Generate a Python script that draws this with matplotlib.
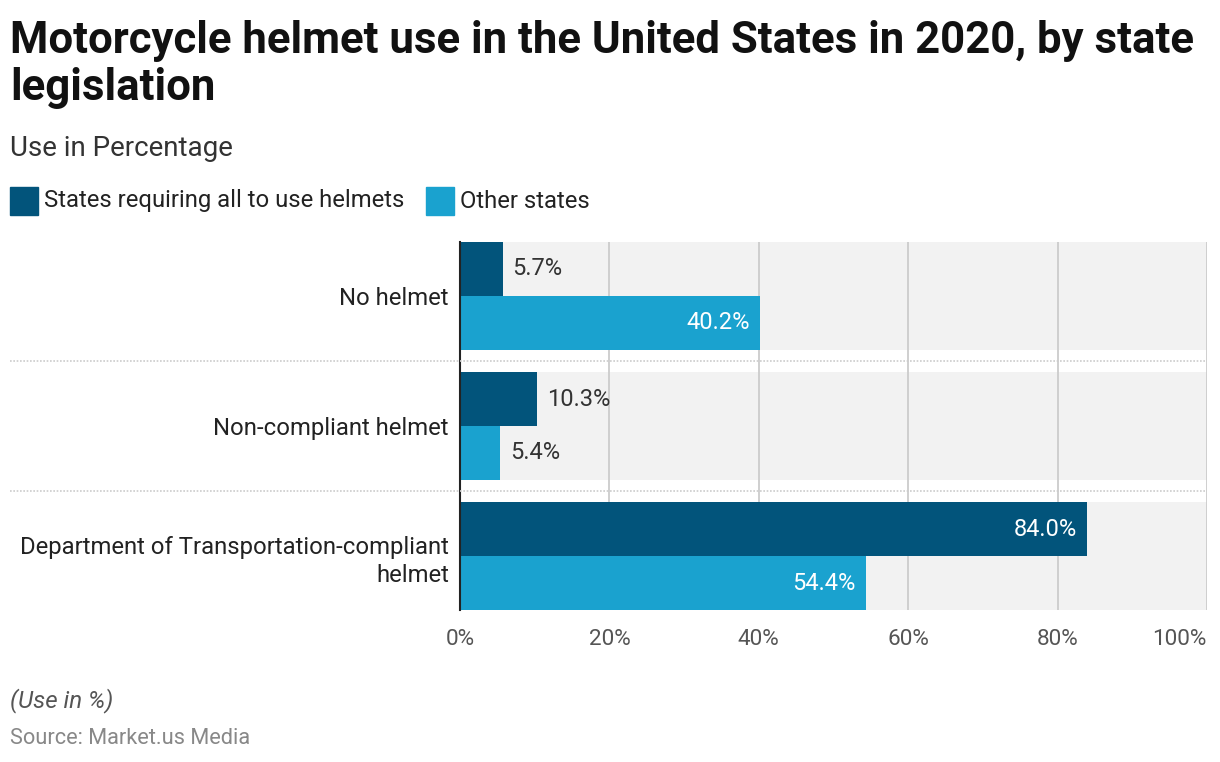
import matplotlib
matplotlib.use("Agg")
import matplotlib.pyplot as plt
from matplotlib.patches import Rectangle
from matplotlib.lines import Line2D
import matplotlib.transforms as mtransforms

plt.rcParams['font.family'] = ['Roboto', 'DejaVu Sans']

categories = ["No helmet", "Non-compliant helmet", "Department of Transportation-compliant\nhelmet"]
series_names = ["States requiring all to use helmets", "Other states"]
all_states = [5.7, 10.3, 84.0]
other_states = [40.2, 5.4, 54.4]
x_ticks = [0, 20, 40, 60, 80, 100]

dark = "#02547b"
light = "#1aa2cf"
band = "#f2f2f2"

fig = plt.figure(figsize=(12.2, 7.62), dpi=100)
ax = fig.add_axes([460 / 1220, 1 - 610 / 762, 747 / 1220, 368 / 762])

half = 0.415
bar_h = 0.415
for i in range(len(categories)):
    ax.add_patch(Rectangle((0, i - half), 100, 2 * half, color=band, zorder=0, lw=0))

for xt in x_ticks[1:]:
    ax.axvline(xt, color="#cccccc", lw=1.3, zorder=1)

y_dark = [i - bar_h / 2 for i in range(len(categories))]
y_light = [i + bar_h / 2 for i in range(len(categories))]
ax.barh(y_dark, all_states, height=bar_h, color=dark, zorder=2)
ax.barh(y_light, other_states, height=bar_h, color=light, zorder=2)

def label(y, v):
    txt = f"{v:.1f}%"
    if v > 20:
        ax.text(v - 1.4, y, txt, ha="right", va="center", color="white", fontsize=17, zorder=3)
    else:
        ax.text(v + 1.3, y, txt, ha="left", va="center", color="#333333", fontsize=17, zorder=3)

for y, v in zip(y_dark, all_states):
    label(y, v)
for y, v in zip(y_light, other_states):
    label(y, v)

ax.set_xlim(0, 100)
ax.set_ylim(len(categories) - 1 + half, -half)
ax.set_xticks(x_ticks)
ax.set_xticklabels([f"{t}%" for t in x_ticks], fontsize=16.2, color="#555555")
ax.get_xticklabels()[-1].set_horizontalalignment("right")
ax.set_yticks(range(len(categories)))
ax.set_yticklabels(categories, fontsize=17.2, color="#222222", linespacing=1.3)
ax.tick_params(axis="both", length=0)
ax.tick_params(axis="x", pad=14)
ax.tick_params(axis="y", pad=8)
for s in ["top", "right", "bottom"]:
    ax.spines[s].set_visible(False)
ax.spines["left"].set_color("#222222")
ax.spines["left"].set_linewidth(1.5)
ax.spines["left"].set_zorder(4)

# dotted separators between groups, reaching into the label area
trans = mtransforms.blended_transform_factory(fig.transFigure, ax.transData)
for yy in [0.5, 1.5]:
    fig.add_artist(Line2D([10 / 1220, 1207 / 1220], [yy, yy], transform=trans,
                          color="#cccccc", lw=1.2, ls=(0, (1, 1))))

fig.text(10 / 1220, 1 - 53 / 762, "Motorcycle helmet use in the United States in 2020, by state",
         fontsize=31.5, fontweight="bold", color="#111111", va="baseline")
fig.text(10 / 1220, 1 - 100 / 762, "legislation",
         fontsize=31.5, fontweight="bold", color="#111111", va="baseline")
fig.text(10 / 1220, 1 - 156 / 762, "Use in Percentage", fontsize=20, color="#333333", va="baseline")

fig.add_artist(Rectangle((10 / 1220, 1 - 215 / 762), 28 / 1220, 28 / 762, color=dark,
                         transform=fig.transFigure))
fig.text(44 / 1220, 1 - 201 / 762, series_names[0], fontsize=17.2, color="#222222", va="center")
fig.add_artist(Rectangle((426 / 1220, 1 - 215 / 762), 28 / 1220, 28 / 762, color=light,
                         transform=fig.transFigure))
fig.text(460 / 1220, 1 - 201 / 762, series_names[1], fontsize=17.2, color="#222222", va="center")

fig.text(10 / 1220, 1 - 707 / 762, "(Use in %)", fontsize=17.4, style="italic", color="#555555", va="baseline")
fig.text(10 / 1220, 1 - 744 / 762, "Source: Market.us Media", fontsize=15.7, color="#888888", va="baseline")

fig.savefig("out.png", dpi=100)
